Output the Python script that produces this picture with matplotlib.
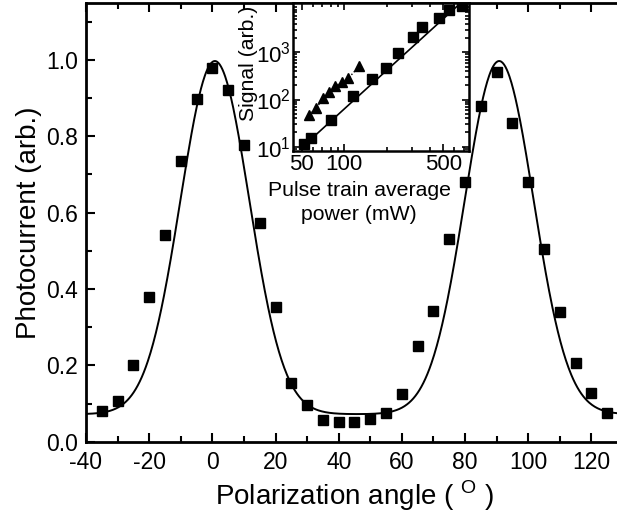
import numpy as np
import matplotlib
matplotlib.use("Agg")
import matplotlib.pyplot as plt
from matplotlib.ticker import MultipleLocator, FixedLocator, NullFormatter, LogLocator

plt.rcParams['font.family'] = ['Liberation Sans', 'DejaVu Sans']
plt.rcParams['mathtext.fontset'] = 'custom'
plt.rcParams['mathtext.rm'] = 'Liberation Sans'
plt.rcParams['axes.unicode_minus'] = False

# ---- main data: photocurrent vs polarization angle ----
angle = [-35, -30, -25, -20, -15, -10, -5, 0, 5, 10, 15, 20, 25, 30, 35, 40, 45, 50,
         55, 60, 65, 70, 75, 80, 85, 90, 95, 100, 105, 110, 115, 120, 125]
photocurrent = [0.080, 0.107, 0.201, 0.379, 0.541, 0.735, 0.898, 0.979, 0.921, 0.777,
                0.573, 0.352, 0.155, 0.096, 0.057, 0.051, 0.052, 0.059,
                0.074, 0.125, 0.251, 0.343, 0.531, 0.680, 0.879, 0.967, 0.836,
                0.680, 0.506, 0.341, 0.207, 0.127, 0.076]

# Gaussian fit parameters
fit_baseline = 0.072
fit_amplitude = 0.925
fit_centers = [0.8, 90.8]
fit_sigma = 10.9

# ---- inset data: signal vs pulse train average power ----
power_sq = [51.9, 58.2, 80.1, 114.7, 157.8, 197, 241, 304, 354, 467, 549, 682]
signal_sq = [11.4, 15.3, 36.8, 117, 272, 464, 953, 2080, 3480, 5250, 7870, 9700]
power_tri = [56.3, 63.1, 71.1, 78.3, 86.4, 96.8, 106.7, 127.7]
signal_tri = [47.0, 65, 106, 146, 193, 238, 281, 513]
# power-law fit line through squares: log10(S) = a + b*log10(P)
fit_line_a = -3.659
fit_line_b = 2.73
fit_line_range = [49.4, 640]

fig = plt.figure(figsize=(6.17, 5.17), dpi=100)
ax = fig.add_axes([86/617, 1-441.7/517, 537/617, (441.7-3)/517])

xfit = np.linspace(-40, 130, 800)
yfit = fit_baseline + sum(fit_amplitude*np.exp(-(xfit-c)**2/(2*fit_sigma**2)) for c in fit_centers)
ax.plot(xfit, yfit, color='black', lw=1.4)
ax.plot(angle, photocurrent, 's', color='black', ms=7, mec='black')

ax.set_xlim(-40, 130)
ax.set_ylim(0, 1.149)
ax.xaxis.set_major_locator(MultipleLocator(20))
ax.xaxis.set_minor_locator(MultipleLocator(10))
ax.yaxis.set_major_locator(MultipleLocator(0.2))
ax.yaxis.set_minor_locator(MultipleLocator(0.1))
ax.yaxis.set_major_formatter(matplotlib.ticker.FormatStrFormatter('%.1f'))
ax.tick_params(which='both', direction='in', top=True, right=False, width=1.5, labelsize=16.5)
ax.tick_params(which='major', length=6.5)
ax.tick_params(which='minor', length=4.3)
ax.tick_params(axis='x', pad=7)
ax.tick_params(axis='y', pad=6)
for s in ['left', 'bottom', 'top']:
    ax.spines[s].set_linewidth(2)
ax.spines['right'].set_visible(False)
ax.set_xlabel(r'Polarization angle ( $^{\mathrm{O}}$ )', fontsize=20, labelpad=3)
ax.set_ylabel('Photocurrent (arb.)', fontsize=20, labelpad=3)

# ---- inset ----
ins = fig.add_axes([293.3/617, 1-151/517, (469.3-293.3)/617, (151-3)/517])
px = np.logspace(np.log10(fit_line_range[0]), np.log10(fit_line_range[1]), 50)
ins.plot(px, 10**(fit_line_a + fit_line_b*np.log10(px)), color='black', lw=1.2)
ins.plot(power_tri, signal_tri, '^', color='black', ms=7, ls=(0, (1, 1.5)), lw=1)
ins.plot(power_sq, signal_sq, 's', color='black', ms=6.5)
ins.set_xscale('log')
ins.set_yscale('log')
ins.set_xlim(43.6, 764)
ins.set_ylim(8.1, 11100)
ins.xaxis.set_major_locator(FixedLocator([50, 100, 500]))
ins.xaxis.set_major_formatter(matplotlib.ticker.FixedFormatter(['50', '100', '500']))
ins.xaxis.set_minor_locator(FixedLocator([60, 70, 80, 90, 200, 300, 400, 600, 700]))
ins.xaxis.set_minor_formatter(NullFormatter())
ins.yaxis.set_major_locator(FixedLocator([10, 100, 1000]))
ins.yaxis.set_minor_locator(LogLocator(base=10, subs=np.arange(2, 10), numticks=10))
ins.yaxis.set_minor_formatter(NullFormatter())
ins.tick_params(which='both', direction='in', top=True, right=True, width=1.2, labelsize=16, pad=2)
ins.tick_params(which='major', length=5)
ins.tick_params(which='minor', length=3)
for s in ins.spines.values():
    s.set_linewidth(1.8)
ins.set_xlabel('Pulse train average\npower (mW)', fontsize=15.3, linespacing=1.35)
ins.xaxis.set_label_coords((359 - 293.3) / 176, -0.2, transform=ins.transAxes)
ins.xaxis.label.set_va('top')
ins.set_ylabel('Signal (arb.)', fontsize=15.3)
ins.yaxis.set_label_coords(-0.2, (151 - 63) / 148, transform=ins.transAxes)

fig.savefig('out.png', dpi=100)
